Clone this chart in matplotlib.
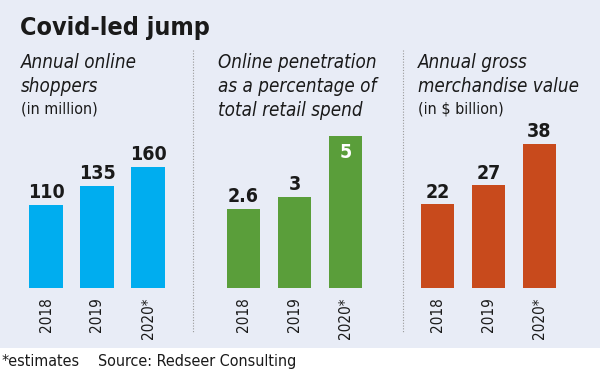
import matplotlib
matplotlib.use("Agg")
import matplotlib.pyplot as plt
from matplotlib.patches import Rectangle

# data
years = ["2018", "2019", "2020*"]
shoppers = [110, 135, 160]
penetration = [2.6, 3, 5]
gmv = [22, 27, 38]

titles = ["Annual online\nshoppers",
          "Online penetration\nas a percentage of\ntotal retail spend",
          "Annual gross\nmerchandise value"]
units = ["(in million)", None, "(in $ billion)"]

W, H = 600, 373
BG = "#e8ecf6"
INK = "#1a1a1a"
plt.rcParams["font.family"] = ["DejaVu Sans"]
plt.rcParams["font.stretch"] = "condensed"

fig = plt.figure(figsize=(W / 100, H / 100), dpi=100, facecolor=BG)


def fx(x):
    return x / W


def fy(y):
    return 1 - y / H


# white footer strip
fig.patches.append(Rectangle((0, 0), 1, fy(348), transform=fig.transFigure,
                             facecolor="white", edgecolor="none", zorder=0))

fig.text(fx(20), fy(35), "Covid-led jump", fontsize=18, fontweight="bold",
         color=INK, va="baseline")

panels = [
    (shoppers, "#00adef", 20.5, 0.756, 21),
    (penetration, "#5a9e3a", 218, 30.4, 218),
    (gmv, "#c84a1c", 412, 3.8, 418),
]

bottom_px, top_px = 288, 120
for i, (vals, color, left, ppu, tx) in enumerate(panels):
    ax = fig.add_axes([fx(left), fy(bottom_px), fx(153), (bottom_px - top_px) / H])
    ax.set_facecolor("none")
    x = range(len(vals))
    ax.bar(x, vals, width=0.65, color=color)
    ax.set_xlim(-0.5, 2.5)
    ax.set_ylim(0, (bottom_px - top_px) / ppu)
    for s in ax.spines.values():
        s.set_visible(False)
    ax.set_yticks([])
    ax.set_xticks(list(x))
    ax.set_xticklabels(years, rotation=90, fontsize=11, color=INK)
    ax.tick_params(axis="x", length=0, pad=6.5)
    for j, v in enumerate(vals):
        lbl = f"{v:g}"
        if i == 1 and j == 2:
            ax.annotate(lbl, (j, v), xytext=(0, -5), textcoords="offset points",
                        ha="center", va="top", fontsize=14, fontweight="bold",
                        color="white")
        else:
            ax.annotate(lbl, (j, v), xytext=(0, 2), textcoords="offset points",
                        ha="center", va="bottom", fontsize=14, fontweight="bold",
                        color=INK)

    lines = titles[i].split("\n")
    for k, line in enumerate(lines):
        fig.text(fx(tx), fy(68 + 24 * k), line, fontsize=13.5, style="italic",
                 color=INK, va="baseline")
    if units[i]:
        fig.text(fx(tx), fy(68 + 24 * len(lines) - 3), units[i], fontsize=11.5,
                 color=INK, va="baseline")

# dotted dividers
for xd in (193, 403):
    fig.add_artist(plt.Line2D([fx(xd), fx(xd)], [fy(50), fy(333)],
                              transform=fig.transFigure, color="#9a9a9a",
                              linestyle=(0, (1, 1.5)), linewidth=0.8))

fig.text(fx(2), fy(366), "*estimates", fontsize=11.5, color=INK, va="baseline")
fig.text(fx(98), fy(366), "Source: Redseer Consulting", fontsize=11.5,
         color=INK, va="baseline")

fig.savefig("out.png", dpi=100, facecolor=BG)
